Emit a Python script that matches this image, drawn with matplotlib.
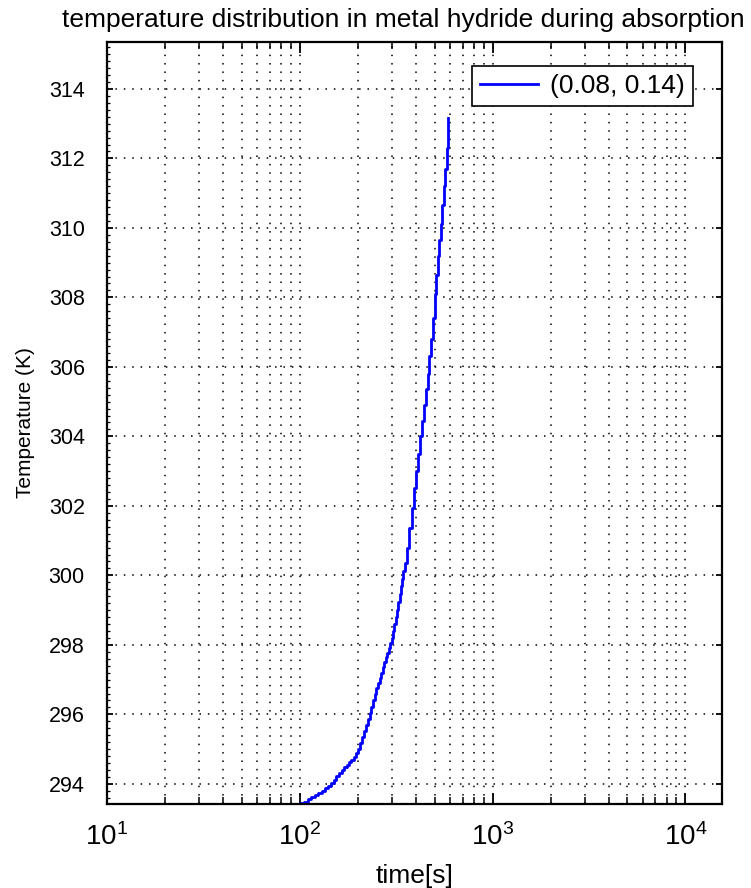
import numpy as np
import matplotlib
matplotlib.use("Agg")
import matplotlib.pyplot as plt
from matplotlib.ticker import LogLocator, MultipleLocator, NullFormatter

# 5 s sampling up to 345 s, 10 s after
time_s = list(range(95, 350, 5)) + list(range(350, 600, 10))
temp_k = [
    293.40, 293.44, 293.49, 293.55, 293.61, 293.67, 293.73, 293.80, 293.87, 293.95,
    294.03, 294.12, 294.22, 294.32, 294.40, 294.48, 294.55, 294.62, 294.70, 294.78,
    294.88,
    295.00, 295.18, 295.35, 295.52, 295.70, 295.88, 296.05, 296.22, 296.40, 296.58,
    296.75, 296.90, 297.05, 297.20, 297.35, 297.50, 297.65, 297.78, 297.90, 298.05,
    298.20, 298.40, 298.60, 298.80, 299.00, 299.22, 299.45, 299.68, 299.90, 300.12,
    300.35, 300.80, 301.35, 301.95, 302.50,
    303.00, 303.50, 304.00, 304.45, 304.90, 305.35, 305.80, 306.30, 306.80, 307.40,
    308.10, 308.65, 309.20, 309.65, 310.10, 310.65, 311.20, 311.70, 312.30, 313.15,
]
series_label = "(0.08, 0.14)"
y_ticks = np.arange(294, 315, 2)

plt.rcParams["font.family"] = ["Liberation Sans", "DejaVu Sans"]
plt.rcParams["mathtext.fontset"] = "custom"
plt.rcParams["mathtext.rm"] = "Liberation Sans"

fig = plt.figure(figsize=(7.51, 8.88), dpi=100)
ax = fig.add_axes([107 / 751, 1 - 804 / 888, 615 / 751, 762 / 888])

ax.plot(time_s, temp_k, color="#0000ff", lw=2.0, drawstyle="steps-post",
        label=series_label)

ax.set_xscale("log")
ax.set_xlim(10, 1.55e4)
ax.set_ylim(293.42, 315.35)

ax.xaxis.set_major_locator(LogLocator(base=10, numticks=10))
ax.xaxis.set_minor_locator(LogLocator(base=10, subs=np.arange(2, 10), numticks=20))
ax.xaxis.set_minor_formatter(NullFormatter())
ax.set_yticks(y_ticks)
ax.yaxis.set_minor_locator(MultipleLocator(0.2))

dots = (0, (1, 4.5))
ax.grid(True, which="major", axis="both", color="black", lw=1.1, linestyle=dots)
ax.grid(True, which="minor", axis="x", color="black", lw=1.1, linestyle=dots)

ax.tick_params(axis="x", which="major", direction="in", top=True, length=8,
               width=1.3, labelsize=20, pad=14)
ax.tick_params(axis="x", which="minor", direction="in", top=True, length=5, width=1.1)
ax.tick_params(axis="y", which="major", direction="in", right=True, length=4,
               width=1.3, labelsize=15.5, pad=16)
ax.tick_params(axis="y", which="minor", direction="in", left=True, right=False,
               length=2.5, width=0.9)
for s in ax.spines.values():
    s.set_linewidth(1.6)

ax.set_xlabel("time[s]", fontsize=19, labelpad=9)
ax.set_ylabel("Temperature (K)", fontsize=15, labelpad=10)
fig.text(403 / 751, 1 - 20 / 888, "temperature distribution in metal hydride during absorption",
         ha="center", va="center", fontsize=19)

leg = ax.legend(loc="upper right", bbox_to_anchor=((693 - 107) / 615, (804 - 66) / 762),
                borderaxespad=0, fancybox=False, framealpha=1, edgecolor="black",
                fontsize=19, handlelength=2.2, handletextpad=0.45, borderpad=0.3)
leg.get_frame().set_linewidth(1.2)

fig.savefig("out.png", dpi=100)
